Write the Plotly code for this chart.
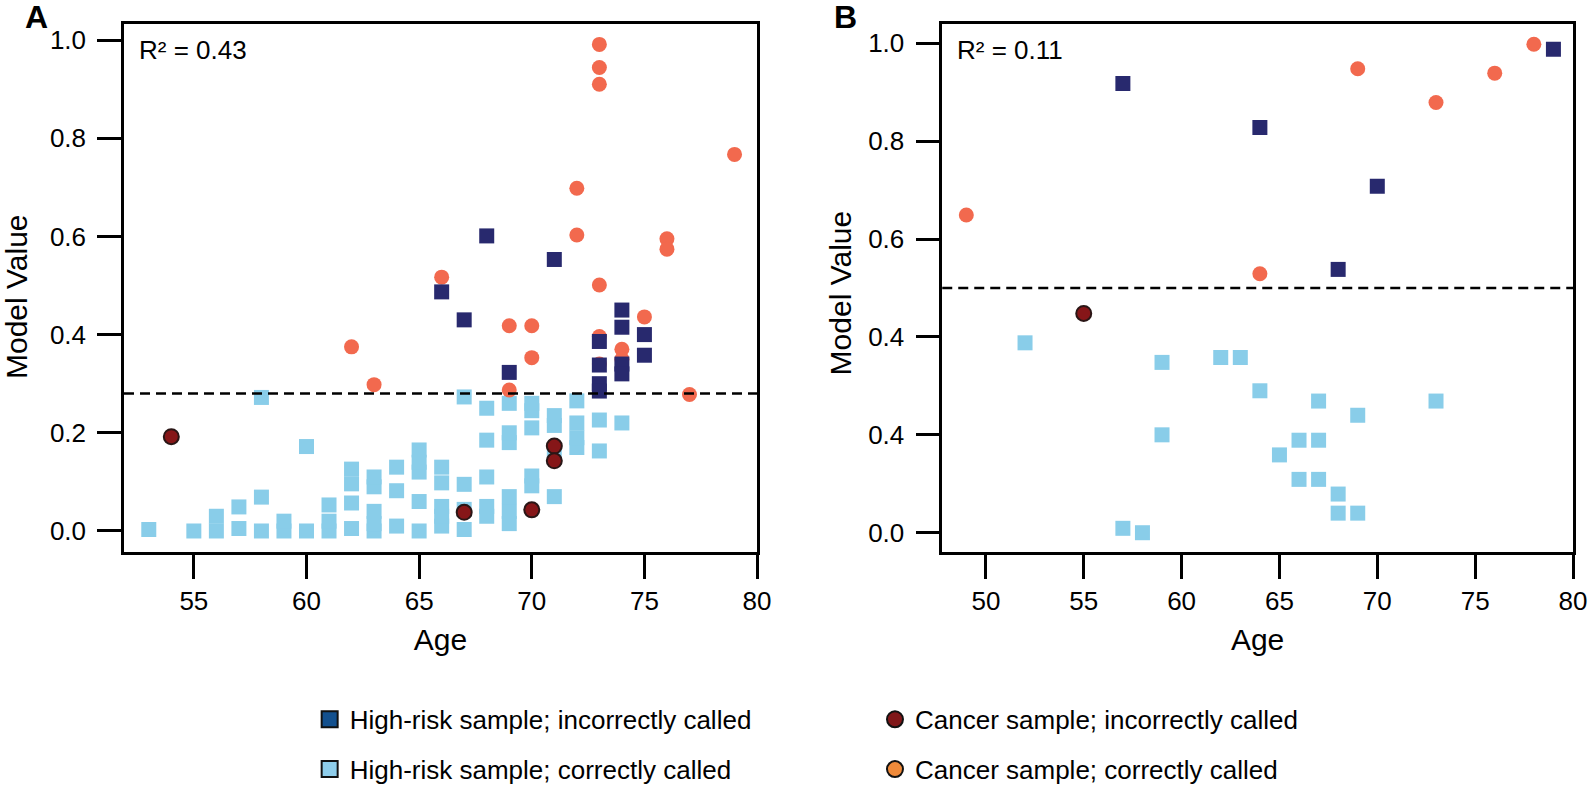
import plotly.graph_objects as go

# ---------------- Panel A data ----------------
a_hr_ok_age = [53, 55, 56, 56, 57, 57, 58, 58, 58, 59, 59, 60, 60,
               61, 61, 61, 62, 62, 62, 62, 63, 63, 63, 63, 63,
               64, 64, 64, 65, 65, 65, 65, 65, 66, 66, 66, 66, 66,
               67, 67, 67, 67, 68, 68, 68, 68, 68,
               69, 69, 69, 69, 69, 69, 70, 70, 70, 70, 70,
               71, 71, 71, 71, 72, 72, 72, 72, 73, 73, 74]
a_hr_ok_val = [0.003, 0.0, 0.0, 0.03, 0.005, 0.049, 0.0, 0.069, 0.272, 0.0, 0.02, 0.0, 0.172,
               0.0, 0.02, 0.053, 0.005, 0.057, 0.096, 0.126, 0.0, 0.015, 0.04, 0.09, 0.11,
               0.01, 0.082, 0.13, 0.0, 0.06, 0.12, 0.14, 0.165, 0.01, 0.03, 0.05, 0.098, 0.13,
               0.003, 0.044, 0.095, 0.273, 0.03, 0.05, 0.11, 0.185, 0.25,
               0.015, 0.04, 0.07, 0.18, 0.2, 0.26, 0.092, 0.112, 0.21, 0.245, 0.26,
               0.07, 0.15, 0.215, 0.235, 0.17, 0.19, 0.22, 0.265, 0.163, 0.226, 0.22]

a_hr_bad_age = [66, 67, 68, 69, 71, 73, 73, 73, 73, 74, 74, 74, 74, 75, 75]
a_hr_bad_val = [0.487, 0.43, 0.601, 0.323, 0.553, 0.386, 0.338, 0.30, 0.285,
                0.45, 0.415, 0.34, 0.32, 0.40, 0.358]

a_ca_ok_age = [62, 63, 66, 69, 69, 70, 70, 72, 72, 73, 73, 73, 73, 73, 73,
               74, 74, 75, 76, 76, 77, 79]
a_ca_ok_val = [0.375, 0.298, 0.517, 0.418, 0.287, 0.418, 0.353, 0.698, 0.603,
               0.991, 0.944, 0.91, 0.501, 0.396, 0.34, 0.37, 0.35, 0.436,
               0.595, 0.574, 0.278, 0.767]

a_ca_bad_age = [54, 67, 70, 71, 71]
a_ca_bad_val = [0.192, 0.038, 0.043, 0.173, 0.143]

a_threshold = 0.28
a_r2 = "R² = 0.43"

# ---------------- Panel B data ----------------
b_hr_ok_age = [52, 57, 58, 59, 59, 62, 63, 64, 65, 66, 66, 67, 67, 67, 68, 68, 69, 69, 73]
b_hr_ok_val = [0.388, 0.009, 0.0, 0.348, 0.2, 0.358, 0.358, 0.29, 0.159, 0.189, 0.109,
               0.269, 0.189, 0.109, 0.079, 0.04, 0.24, 0.04, 0.269]

b_hr_bad_age = [57, 64, 68, 70, 79]
b_hr_bad_val = [0.918, 0.828, 0.538, 0.708, 0.988]

b_ca_ok_age = [49, 64, 69, 73, 76, 78]
b_ca_ok_val = [0.649, 0.529, 0.948, 0.879, 0.939, 0.998]

b_ca_bad_age = [55]
b_ca_bad_val = [0.448]

b_threshold = 0.5
b_r2 = "R² = 0.11"

# ticks
x_ticks_a = [55, 60, 65, 70, 75, 80]
x_ticks_b = [50, 55, 60, 65, 70, 75, 80]
y_tick_vals = [0.0, 0.2, 0.4, 0.6, 0.8, 1.0]
y_tick_text_a = ["0.0", "0.2", "0.4", "0.6", "0.8", "1.0"]
y_tick_text_b = ["0.0", "0.4", "0.4", "0.6", "0.8", "1.0"]

x_title = "Age"
y_title = "Model Value"

legend_labels = ["High-risk sample; incorrectly called", "High-risk sample; correctly called",
                 "Cancer sample; incorrectly called", "Cancer sample; correctly called"]

# colours
C_NAVY = "#28296e"
C_LBLUE = "#89cde9"
C_CORAL = "#f2694e"
C_DRED = "#861618"
L_NAVY = "#13508e"
L_LBLUE = "#8ecdea"
L_DRED = "#801719"
L_ORANGE = "#ef8a3a"

FONT = "Liberation Sans, Arial, sans-serif"
MS = 15

fig = go.Figure()


def add_panel(xa, ya, hr_ok, ca_ok, hr_bad, ca_bad):
    fig.add_trace(go.Scatter(x=hr_ok[0], y=hr_ok[1], mode="markers", xaxis=xa, yaxis=ya,
                             marker=dict(symbol="square", size=MS, color=C_LBLUE, line=dict(width=0)),
                             showlegend=False))
    fig.add_trace(go.Scatter(x=ca_ok[0], y=ca_ok[1], mode="markers", xaxis=xa, yaxis=ya,
                             marker=dict(symbol="circle", size=MS, color=C_CORAL, line=dict(width=0)),
                             showlegend=False))
    fig.add_trace(go.Scatter(x=hr_bad[0], y=hr_bad[1], mode="markers", xaxis=xa, yaxis=ya,
                             marker=dict(symbol="square", size=MS, color=C_NAVY, line=dict(width=0)),
                             showlegend=False))
    fig.add_trace(go.Scatter(x=ca_bad[0], y=ca_bad[1], mode="markers", xaxis=xa, yaxis=ya,
                             marker=dict(symbol="circle", size=MS, color=C_DRED,
                                         line=dict(width=2, color="#2a1616")),
                             showlegend=False))


add_panel("x", "y", (a_hr_ok_age, a_hr_ok_val), (a_ca_ok_age, a_ca_ok_val),
          (a_hr_bad_age, a_hr_bad_val), (a_ca_bad_age, a_ca_bad_val))
add_panel("x2", "y2", (b_hr_ok_age, b_hr_ok_val), (b_ca_ok_age, b_ca_ok_val),
          (b_hr_bad_age, b_hr_bad_val), (b_ca_bad_age, b_ca_bad_val))

# legend-only traces
leg_specs = [
    (legend_labels[0], "square", L_NAVY, "legend"),
    (legend_labels[1], "square", L_LBLUE, "legend"),
    (legend_labels[2], "circle", L_DRED, "legend2"),
    (legend_labels[3], "circle", L_ORANGE, "legend2"),
]
for i, (name, sym, col, lg) in enumerate(leg_specs):
    fig.add_trace(go.Scatter(x=[None], y=[None], mode="markers", name=name, legend=lg,
                             legendgroup=f"g{i}",
                             marker=dict(symbol=sym, size=18, color=col, line=dict(width=2, color="#111111"))))

axis_common = dict(showline=True, mirror=True, linewidth=2.5, linecolor="black",
                   ticks="outside", ticklen=24, tickwidth=2.5, tickcolor="black",
                   showgrid=False, zeroline=False, automargin=False,
                   tickfont=dict(family=FONT, size=26, color="black"))

legend_common = dict(xref="container", yref="container", yanchor="top", xanchor="left",
                     orientation="v", tracegroupgap=13,
                     font=dict(family=FONT, size=26, color="black"),
                     itemsizing="trace", bgcolor="rgba(0,0,0,0)")

title_font = dict(family=FONT, size=30, color="black")

fig.update_layout(
    width=1588, height=789,
    margin=dict(l=124, r=15, t=24, b=237, autoexpand=False),
    paper_bgcolor="white", plot_bgcolor="white",
    font=dict(family=FONT, color="black"),
    xaxis=dict(domain=[0, 0.4369], range=[51.9, 80], tickvals=x_ticks_a,
               title=dict(text=x_title, font=title_font), **axis_common),
    yaxis=dict(domain=[0, 1], range=[-0.0428, 1.0326], tickvals=y_tick_vals, ticktext=y_tick_text_a,
               ticklabelstandoff=6, **axis_common),
    xaxis2=dict(domain=[0.5647, 1], range=[47.77, 80], tickvals=x_ticks_b, anchor="y2",
                title=dict(text=x_title, font=title_font), **axis_common),
    yaxis2=dict(domain=[0, 1], range=[-0.0394, 1.0394], tickvals=y_tick_vals, ticktext=y_tick_text_b,
                anchor="x2", ticklabelstandoff=6, **axis_common),
    legend=dict(x=0.195, y=0.118, **legend_common),
    legend2=dict(x=0.551, y=0.118, **legend_common),
    shapes=[
        dict(type="line", xref="x domain", yref="y", x0=0, x1=1, y0=a_threshold, y1=a_threshold,
             line=dict(color="black", width=2.5, dash="10px,6px")),
        dict(type="line", xref="x2 domain", yref="y2", x0=0, x1=1, y0=b_threshold, y1=b_threshold,
             line=dict(color="black", width=2.5, dash="10px,6px")),
    ],
    annotations=[
        dict(text=y_title, xref="paper", yref="paper", x=-0.0738, y=0.483, textangle=-90,
             xanchor="center", yanchor="middle", showarrow=False, font=title_font),
        dict(text=y_title, xref="paper", yref="paper", x=0.4942, y=0.49, textangle=-90,
             xanchor="center", yanchor="middle", showarrow=False, font=title_font),
        dict(text=a_r2, xref="x domain", yref="y domain", x=0.02, y=0.95, xanchor="left", yanchor="middle",
             showarrow=False, font=dict(family=FONT, size=26, color="black")),
        dict(text=b_r2, xref="x2 domain", yref="y2 domain", x=0.02, y=0.95, xanchor="left", yanchor="middle",
             showarrow=False, font=dict(family=FONT, size=26, color="black")),
        dict(text="<b>A</b>", xref="paper", yref="paper", x=-0.0607, y=1.013, xanchor="center",
             yanchor="middle", showarrow=False, font=dict(family=FONT, size=32, color="black")),
        dict(text="<b>B</b>", xref="paper", yref="paper", x=0.4976, y=1.013, xanchor="center",
             yanchor="middle", showarrow=False, font=dict(family=FONT, size=32, color="black")),
    ],
)

fig.write_html("out.html", config={"displayModeBar": False},
               post_script="document.body.style.margin='0';")
